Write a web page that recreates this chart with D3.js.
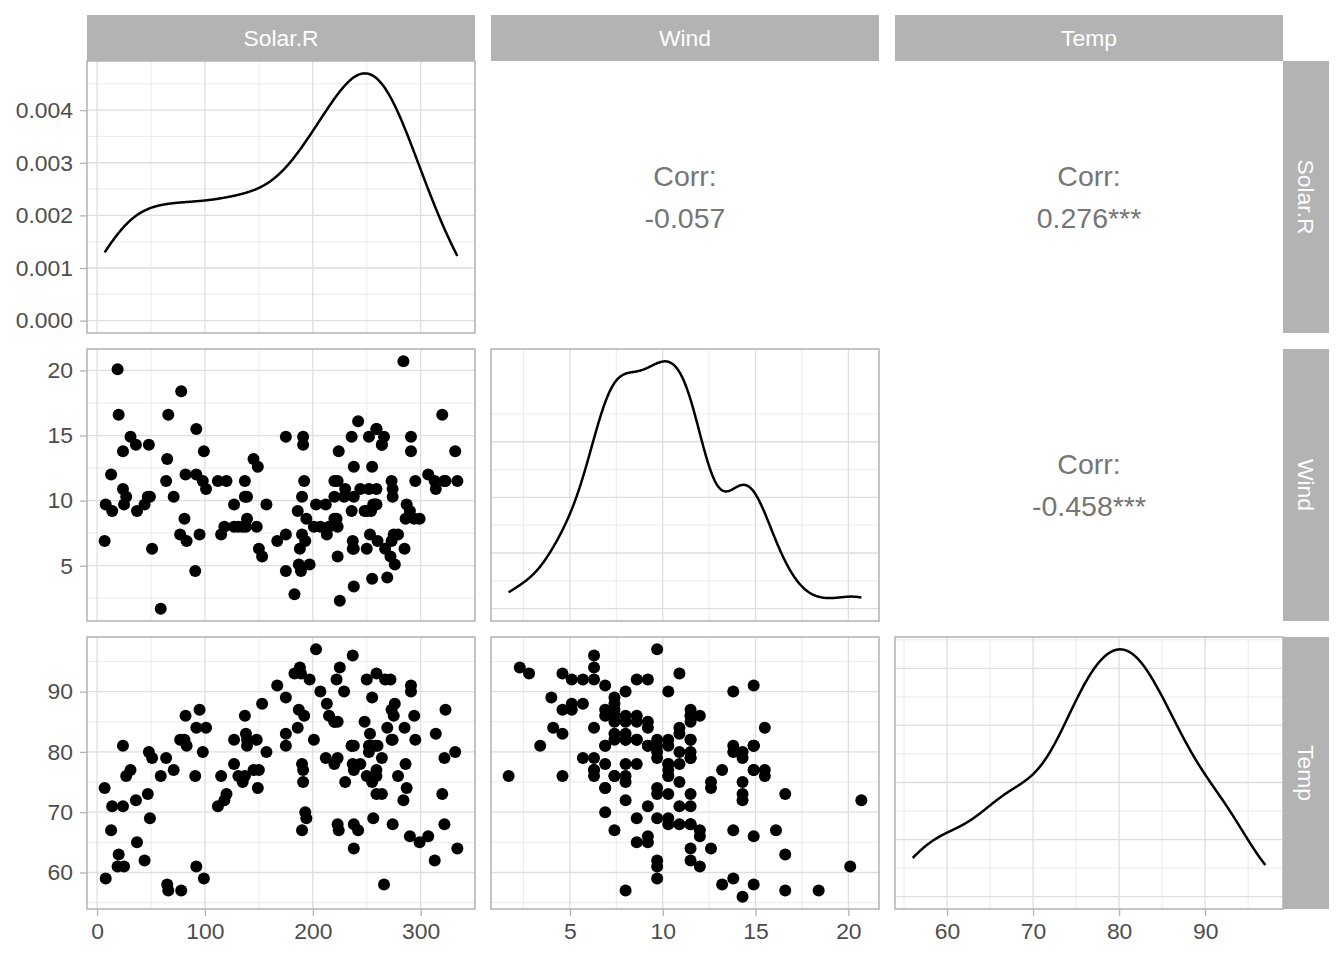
<!DOCTYPE html>
<html>
<head>
<meta charset="utf-8">
<script src="https://cdn.jsdelivr.net/npm/d3@7"></script>
<style>
  body { margin: 0; background: #fff; }
  svg { display: block; }
  text { font-family: "Liberation Sans", Arial, sans-serif; }
</style>
</head>
<body>
<svg id="chart" width="1344" height="960"></svg>
<script>
// airquality: Solar.R, Wind, Temp (null = missing)
var solarR = [190,118,149,313,null,null,299,99,19,194,null,256,290,274,65,334,307,78,322,44,
  8,320,25,92,66,266,null,13,252,223,279,286,287,242,186,220,264,127,273,291,
  323,259,250,148,332,322,191,284,37,120,137,150,59,91,250,135,127,47,98,31,
  138,269,248,236,101,175,314,276,267,272,175,139,264,175,291,48,260,274,285,187,
  220,7,258,295,294,223,81,82,213,275,253,254,83,24,77,null,null,null,255,229,
  207,222,137,192,273,157,64,71,51,115,244,190,259,36,255,212,238,215,153,203,
  225,237,188,167,197,183,189,95,92,252,220,230,259,236,259,238,24,112,237,224,
  27,238,201,238,14,139,49,20,193,145,191,131,223];
var wind = [7.4,8.0,12.6,11.5,14.3,14.9,8.6,13.8,20.1,8.6,
  6.9,9.7,9.2,10.9,13.2,11.5,12.0,18.4,11.5,9.7,
  9.7,16.6,9.7,12.0,16.6,14.9,8.0,12.0,14.9,5.7,
  7.4,8.6,9.7,16.1,9.2,8.6,14.3,9.7,6.9,13.8,
  11.5,10.9,9.2,8.0,13.8,11.5,14.9,20.7,9.2,11.5,
  10.3,6.3,1.7,4.6,6.3,8.0,8.0,10.3,11.5,14.9,
  8.0,4.1,9.2,9.2,10.9,4.6,10.9,5.1,6.3,5.7,
  7.4,8.6,14.3,14.9,14.9,14.3,6.9,10.3,6.3,5.1,
  11.5,6.9,9.7,11.5,8.6,8.0,8.6,12.0,7.4,7.4,
  7.4,9.2,6.9,13.8,7.4,6.9,7.4,4.6,4.0,10.3,
  8.0,8.6,11.5,11.5,11.5,9.7,11.5,10.3,6.3,7.4,
  10.9,10.3,15.5,14.3,12.6,9.7,3.4,8.0,5.7,9.7,
  2.3,6.3,6.3,6.9,5.1,2.8,4.6,7.4,15.5,10.9,
  10.3,10.9,9.7,14.9,15.5,6.3,10.9,11.5,6.9,13.8,
  10.3,10.3,8.0,12.6,9.2,10.3,10.3,16.6,6.9,13.2,
  14.3,8.0,11.5];
var temp = [67,72,74,62,56,66,65,59,61,69,
  74,69,66,68,58,64,66,57,68,62,
  59,73,61,61,57,58,57,67,81,79,
  76,78,74,67,84,85,79,82,87,90,
  87,93,92,82,80,79,77,72,65,73,
  76,77,76,76,76,75,78,73,80,77,
  83,84,85,81,84,83,83,88,92,92,
  89,82,73,81,91,80,81,82,84,87,
  85,74,81,82,86,85,82,86,88,86,
  83,81,81,81,82,86,85,87,89,90,
  90,92,86,86,82,80,79,77,79,76,
  78,78,77,72,75,79,81,86,88,97,
  94,96,94,91,92,93,93,87,84,80,
  78,75,73,81,76,77,71,71,78,67,
  76,68,82,64,71,81,69,63,70,77,
  75,76,68];

var varNames = ["Solar.R", "Wind", "Temp"];
var varData = [solarR, wind, temp];
// major breaks for each variable and for each density panel
var valueTicks = [[0, 100, 200, 300], [5, 10, 15, 20], [60, 70, 80, 90]];
var densityTicks = [[0, 0.001, 0.002, 0.003, 0.004], [0, 0.025, 0.05, 0.075], [0, 0.01, 0.02, 0.03, 0.04]];
// upper triangle labels [row][col]
var corrLabels = {"0-1": "-0.057", "0-2": "0.276***", "1-2": "-0.458***"};

var panelW = 388, panelH = 272;
var panelX = [87, 491, 895], panelY = [61, 349, 637];
var stripSize = 46;
var fontSize = 22.9;

var svg = d3.select("#chart");
svg.append("rect").attr("width", 1344).attr("height", 960).attr("fill", "#fff");

var expand = function(ext) {
  var pad = (ext[1] - ext[0]) * 0.05;
  return [ext[0] - pad, ext[1] + pad];
};

// ggplot style minor breaks: halfway between majors, one step beyond the ends
var minorBreaks = function(majors, domain) {
  var step = majors[1] - majors[0];
  var b = majors.slice();
  if (domain[0] < b[0]) b.unshift(b[0] - step);
  if (domain[1] > b[b.length - 1]) b.push(b[b.length - 1] + step);
  var out = [];
  for (var i = 0; i < b.length - 1; i++) out.push(b[i] + step / 2);
  return out.filter(function(v) { return v > domain[0] && v < domain[1]; });
};

// gaussian kde with bw.nrd0, 512 points over the data range (like stat_density)
var kde = function(values) {
  var v = values.filter(function(d) { return d != null; }).sort(d3.ascending);
  var n = v.length;
  var sd = d3.deviation(v);
  var iqr = d3.quantileSorted(v, 0.75) - d3.quantileSorted(v, 0.25);
  var bw = 0.9 * Math.min(sd, iqr / 1.34) * Math.pow(n, -0.2);
  var lo = v[0], hi = v[n - 1];
  var pts = [];
  for (var k = 0; k < 512; k++) {
    var x = lo + (hi - lo) * k / 511;
    var s = 0;
    v.forEach(function(xi) {
      var z = (x - xi) / bw;
      s += Math.exp(-0.5 * z * z);
    });
    pts.push([x, s / (n * bw * Math.sqrt(2 * Math.PI))]);
  }
  return pts;
};

var xScales = varData.map(function(d, j) {
  var ext = d3.extent(d.filter(function(e) { return e != null; }));
  return d3.scaleLinear().domain(expand(ext)).range([panelX[j], panelX[j] + panelW]);
});
var yScales = varData.map(function(d, i) {
  var ext = d3.extent(d.filter(function(e) { return e != null; }));
  return d3.scaleLinear().domain(expand(ext)).range([panelY[i] + panelH, panelY[i]]);
});
var densities = varData.map(kde);
var densScales = densities.map(function(pts, i) {
  var m = d3.max(pts, function(p) { return p[1]; });
  return d3.scaleLinear().domain([-0.05 * m, 1.05 * m]).range([panelY[i] + panelH, panelY[i]]);
});

function drawGrid(g, xs, ys, xMajor, yMajor, x0, y0) {
  var xMinor = minorBreaks(xMajor, xs.domain());
  var yMinor = minorBreaks(yMajor, ys.domain());
  g.selectAll(".vminor").data(xMinor).enter().append("line")
    .attr("x1", xs).attr("x2", xs).attr("y1", y0).attr("y2", y0 + panelH)
    .attr("stroke", "#e3e3e3").attr("stroke-width", 0.7);
  g.selectAll(".hminor").data(yMinor).enter().append("line")
    .attr("y1", ys).attr("y2", ys).attr("x1", x0).attr("x2", x0 + panelW)
    .attr("stroke", "#e3e3e3").attr("stroke-width", 0.7);
  g.selectAll(".vmajor").data(xMajor).enter().append("line")
    .attr("x1", xs).attr("x2", xs).attr("y1", y0).attr("y2", y0 + panelH)
    .attr("stroke", "#dedede").attr("stroke-width", 1.3);
  g.selectAll(".hmajor").data(yMajor).enter().append("line")
    .attr("y1", ys).attr("y2", ys).attr("x1", x0).attr("x2", x0 + panelW)
    .attr("stroke", "#dedede").attr("stroke-width", 1.3);
}

for (var i = 0; i < 3; i++) {
  for (var j = 0; j < 3; j++) {
    var x0 = panelX[j], y0 = panelY[i];
    var g = svg.append("g").attr("class", "panel-" + i + "-" + j);
    if (i < j) {
      var cx = x0 + panelW / 2, cy = y0 + panelH / 2;
      g.append("text").attr("x", cx).attr("y", cy - 21).attr("dy", "0.35em")
        .attr("text-anchor", "middle").attr("fill", "#767676").style("font-size", "28.5px")
        .text("Corr:");
      g.append("text").attr("x", cx).attr("y", cy + 21).attr("dy", "0.35em")
        .attr("text-anchor", "middle").attr("fill", "#767676").style("font-size", "28.5px")
        .text(corrLabels[i + "-" + j]);
      continue;
    }
    var xs = xScales[j];
    if (i == j) {
      var ys = densScales[i];
      drawGrid(g, xs, ys, valueTicks[j], densityTicks[i], x0, y0);
      g.append("path").datum(densities[i])
        .attr("d", d3.line().x(function(p) { return xs(p[0]); }).y(function(p) { return ys(p[1]); }))
        .attr("fill", "none").attr("stroke", "#000").attr("stroke-width", 2.5);
    } else {
      var ys = yScales[i];
      drawGrid(g, xs, ys, valueTicks[j], valueTicks[i], x0, y0);
      var pts = solarR.map(function(_, k) { return [varData[j][k], varData[i][k]]; })
        .filter(function(p) { return p[0] != null && p[1] != null; });
      g.selectAll("circle").data(pts).enter().append("circle")
        .attr("cx", function(p) { return xs(p[0]); })
        .attr("cy", function(p) { return ys(p[1]); })
        .attr("r", 6).attr("fill", "#000");
    }
    g.append("rect").attr("x", x0).attr("y", y0).attr("width", panelW).attr("height", panelH)
      .attr("fill", "none").attr("stroke", "#b3b3b3").attr("stroke-width", 1.5);
  }
}

// strips
varNames.forEach(function(name, j) {
  svg.append("rect").attr("x", panelX[j]).attr("y", panelY[0] - stripSize)
    .attr("width", panelW).attr("height", stripSize).attr("fill", "#b3b3b3");
  svg.append("text").attr("x", panelX[j] + panelW / 2).attr("y", panelY[0] - stripSize / 2)
    .attr("dy", "0.35em").attr("text-anchor", "middle").attr("fill", "#fff")
    .style("font-size", fontSize + "px").text(name);
  var sx = panelX[2] + panelW, sy = panelY[j];
  svg.append("rect").attr("x", sx).attr("y", sy).attr("width", stripSize).attr("height", panelH)
    .attr("fill", "#b3b3b3");
  svg.append("text")
    .attr("transform", "translate(" + (sx + stripSize / 2) + "," + (sy + panelH / 2) + ") rotate(90)")
    .attr("dy", "0.35em").attr("text-anchor", "middle").attr("fill", "#fff")
    .style("font-size", fontSize + "px").text(name);
});

// axes
function styleAxis(sel) {
  sel.select(".domain").remove();
  sel.selectAll(".tick line").attr("stroke", "#b3b3b3").attr("stroke-width", 1.3);
  sel.selectAll(".tick text").attr("fill", "#4d4d4d").style("font-size", fontSize + "px")
    .style("font-family", "'Liberation Sans', Arial, sans-serif");
}
for (var r = 0; r < 3; r++) {
  var scale = r == 0 ? densScales[0] : yScales[r];
  var tv = r == 0 ? densityTicks[0] : valueTicks[r];
  svg.append("g").attr("transform", "translate(" + panelX[0] + ",0)")
    .call(d3.axisLeft(scale).tickValues(tv).tickSize(7).tickPadding(7)
      .tickFormat(r == 0 ? d3.format(".3f") : d3.format("d")))
    .call(styleAxis);
}
for (var c = 0; c < 3; c++) {
  svg.append("g").attr("transform", "translate(0," + (panelY[2] + panelH) + ")")
    .call(d3.axisBottom(xScales[c]).tickValues(valueTicks[c]).tickSize(7).tickPadding(7)
      .tickFormat(d3.format("d")))
    .call(styleAxis);
}
</script>
</body>
</html>
